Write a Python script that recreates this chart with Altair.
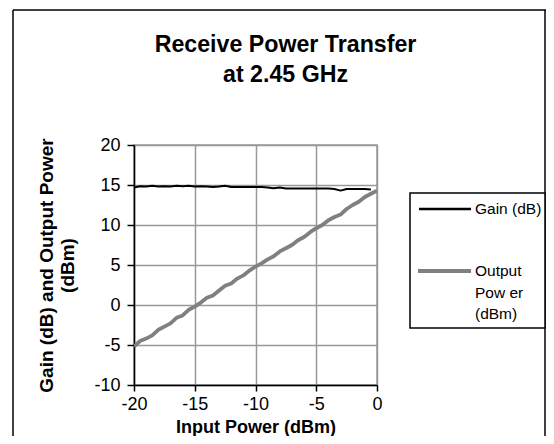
import altair as alt
import pandas as pd

# ---- data ----
input_power = [-20.0, -19.5, -19.0, -18.5, -18.0, -17.5, -17.0, -16.5, -16.0, -15.5,
               -15.0, -14.5, -14.0, -13.5, -13.0, -12.5, -12.0, -11.5, -11.0, -10.5,
               -10.0, -9.5, -9.0, -8.5, -8.0, -7.5, -7.0, -6.5, -6.0, -5.5,
               -5.0, -4.5, -4.0, -3.5, -3.0, -2.5, -2.0, -1.5, -1.0, -0.5, 0.0]

gain_db = [14.7, 14.85, 14.8, 14.9, 14.8, 14.85, 14.8, 14.9, 14.85, 14.9,
           14.8, 14.85, 14.8, 14.75, 14.8, 14.9, 14.75, 14.75, 14.75, 14.75,
           14.75, 14.75, 14.7, 14.6, 14.7, 14.55, 14.55, 14.55, 14.55, 14.55,
           14.55, 14.55, 14.55, 14.5, 14.3, 14.5, 14.5, 14.5, 14.5, 14.45]

output_dbm = [-5.2, -4.5, -4.2, -3.8, -3.1, -2.7, -2.3, -1.6, -1.3, -0.6,
              -0.2, 0.3, 0.9, 1.2, 1.8, 2.4, 2.7, 3.3, 3.7, 4.3,
              4.8, 5.2, 5.7, 6.1, 6.7, 7.1, 7.5, 8.1, 8.5, 9.1,
              9.6, 10.0, 10.6, 11.0, 11.3, 12.0, 12.5, 12.9, 13.5, 13.9, 14.3]

series = ["Gain (dB)", "Output Power (dBm)"]
legend_labels = ["Gain (dB)", "Output\nPow er\n(dBm)"]
series_colors = ["#000000", "#808080"]
series_widths = [2, 3.8]
x_ticks = [-20, -15, -10, -5, 0]
y_ticks = [-10, -5, 0, 5, 10, 15, 20]

rows = []
for x, g in zip(input_power, gain_db):
    rows.append({"Input": x, "Value": g, "Series": series[0]})
for x, o in zip(input_power, output_dbm):
    rows.append({"Input": x, "Value": o, "Series": series[1]})
df = pd.DataFrame(rows)

FONT = "Liberation Sans"

lines = alt.Chart(df).mark_line(clip=True, strokeJoin="round").encode(
    x=alt.X("Input:Q",
            scale=alt.Scale(domain=[-20, 0], nice=False, zero=False),
            axis=alt.Axis(values=x_ticks, title="Input Power (dBm)",
                          labelExpr="'' + datum.value", labelFlush=False,
                          labelBaseline="alphabetic", labelPadding=18,
                          titleFontSize=18, titleFontWeight="bold", titleFont=FONT,
                          titleBaseline="alphabetic", titleY=47,
                          labelFontSize=18, labelFont=FONT,
                          tickSize=6, labelColor="black", titleColor="black")),
    y=alt.Y("Value:Q",
            scale=alt.Scale(domain=[-10, 20], nice=False, zero=False),
            axis=alt.Axis(values=y_ticks,
                          labelExpr="'' + datum.value",
                          title=["Gain (dB) and Output Power", "(dBm)"],
                          titleFontSize=19, titleFontWeight="bold", titleFont=FONT,
                          titleLineHeight=21, titleX=-78, titleY=120,
                          titleAlign="center", titleBaseline="bottom", titleAngle=270,
                          labelFontSize=18, labelFont=FONT, labelPadding=7,
                          tickSize=7, labelColor="black", titleColor="black")),
    color=alt.Color("Series:N",
                    scale=alt.Scale(domain=series, range=series_colors), legend=None),
    strokeWidth=alt.StrokeWidth("Series:N",
                                scale=alt.Scale(domain=series, range=series_widths),
                                legend=None),
    order="Input:Q",
)

# outer chart frame
frame_left = alt.Chart().mark_rule(color="black", strokeWidth=1.5).encode(
    x=alt.value(-121), y=alt.value(-135), y2=alt.value(300))
frame_top = alt.Chart().mark_rule(color="black", strokeWidth=1.5).encode(
    x=alt.value(-121), x2=alt.value(412), y=alt.value(-135))
frame_right = alt.Chart().mark_rule(color="black", strokeWidth=1.5).encode(
    x=alt.value(411), y=alt.value(-135), y2=alt.value(300))

# legend (boxed, to the right of the plot)
legend_box = alt.Chart().mark_rect(fill="white", stroke="black", strokeWidth=1.5).encode(
    x=alt.value(276), x2=alt.value(411), y=alt.value(48), y2=alt.value(183))
leg_sym_gain = alt.Chart().mark_rule(color=series_colors[0], strokeWidth=2.5).encode(
    x=alt.value(285), x2=alt.value(337), y=alt.value(64))
leg_sym_out = alt.Chart().mark_rule(color=series_colors[1], strokeWidth=4).encode(
    x=alt.value(284), x2=alt.value(337), y=alt.value(126))
leg_txt_gain = alt.Chart().mark_text(
    text=legend_labels[0], align="left", baseline="middle",
    font=FONT, fontSize=15.5, color="black").encode(
    x=alt.value(341), y=alt.value(64))
leg_txt_out = alt.Chart().mark_text(
    text=legend_labels[1], lineBreak="\n", lineHeight=21.5, align="left",
    baseline="middle", font=FONT, fontSize=15.5, color="black").encode(
    x=alt.value(341), y=alt.value(126))

chart = alt.layer(
    lines, frame_left, frame_top, frame_right,
    legend_box, leg_sym_gain, leg_sym_out, leg_txt_gain, leg_txt_out
).properties(
    width=243, height=240,
    autosize=alt.AutoSizeParams(type="none"),
    padding={"left": 126, "top": 137, "right": 169, "bottom": 51},
    title=alt.TitleParams(text=["Receive Power Transfer", "at 2.45 GHz"],
                          fontSize=23.2, fontWeight="bold", font=FONT, color="black",
                          lineHeight=30, anchor="middle", dx=30, offset=0, dy=101,
                          baseline="bottom"),
).configure_view(
    stroke="#999999", strokeWidth=1.5
).configure_axis(
    gridColor="#999999", gridWidth=1.5, gridOpacity=1,
    domainColor="black", domainWidth=1.5, tickColor="black", tickWidth=1.5
)

chart.save("out.html", embed_options={"renderer": "svg", "actions": False})
